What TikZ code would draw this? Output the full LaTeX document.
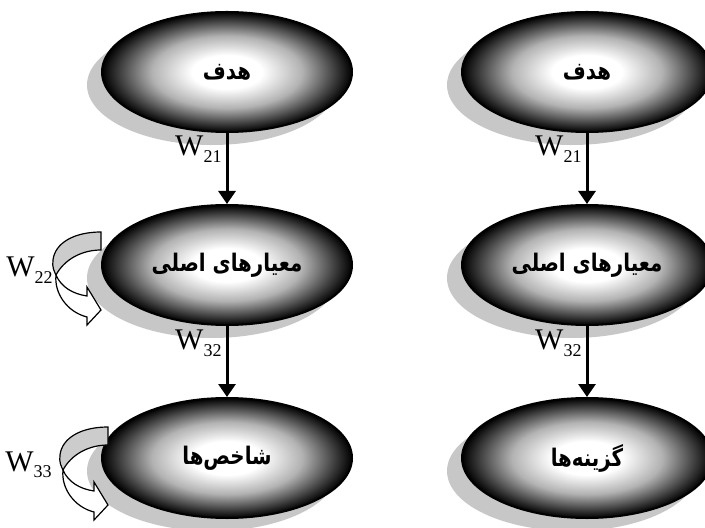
\documentclass[tikz,border=0pt]{standalone}
\usepackage{fontspec}
\setmainfont{Liberation Serif}
\newfontfamily\arabicfont[Script=Arabic]{DejaVu Sans}
\TeXXeTstate=1
\usetikzlibrary{positioning, shapes.geometric, shadows, arrows.meta}

\pgfdeclareradialshading{glow}{\pgfpoint{0bp}{0bp}}{color(0bp)=(white); color(7bp)=(white); color(15bp)=(black!30); color(21bp)=(black!72); color(25bp)=(black); color(50bp)=(black)}

\newcommand\wsub[1]{\raisebox{-0.5ex}{\fontsize{9}{9}\selectfont #1}}
\newcommand\fa[1]{\scalebox{0.9}[1.1]{\arabicfont\bfseries\beginR #1\endR}}

\tikzset{
  tier/.style={ellipse, draw=black, line width=1pt, inner sep=0pt, minimum width=125pt, minimum height=60pt,
    shading=glow, drop shadow={shadow xshift=-7.5pt, shadow yshift=-6.5pt, fill=black!22, opacity=1},
    font=\fontsize{11}{13}\selectfont},
  flow/.style={line width=1.5pt, -{Triangle[width=8.5pt,length=6.5pt]}},
  wlabel/.style={inner sep=1pt, font=\fontsize{15}{15}\selectfont},
  loopback/.pic={
    \draw[line width=0.6pt, fill=black!20] (2,-33) .. controls (-25,-33) and (-44,-22) .. (-46,-5)
      .. controls (-47,2) and (-45,6) .. (-43,10) .. controls (-35,-5) and (-18,-15) .. (2,-15) -- cycle;
    \draw[line width=0.6pt, fill=white] (-43,10) .. controls (-45,28) and (-32,47) .. (-12,52)
      -- (-12,60) -- (2,45) -- (-12,22) -- (-12,31) .. controls (-26,29) and (-38,22) .. (-43,10) -- cycle;
  }
}

\begin{document}
\begin{tikzpicture}[x=0.5pt, y=-0.5pt]
\path[use as bounding box, clip] (0,0) rectangle (705,528);

% left column
\node[tier] (goal) at (227,72) {\fa{هدف}};
\node[tier, below=35.5pt of goal] (crit) {\fa{معیارهای اصلی}};
\node[tier, below=35.5pt of crit] (ind) {\fa{شاخص‌ها}};
% right column
\node[tier, right=54pt of goal] (goal2) {\fa{هدف}};
\node[tier, below=35.5pt of goal2] (crit2) {\fa{معیارهای اصلی}};
\node[tier, below=35.5pt of crit2] (alt) {\fa{گزینه‌ها}};

\draw[flow] (goal) -- (crit) node[wlabel, at start, anchor=base east, xshift=-1pt, yshift=-11.5pt] (w21) {W\wsub{21}};
\draw[flow] (crit) -- (ind) node[wlabel, at start, anchor=base east, xshift=-1pt, yshift=-12pt] (w32) {W\wsub{32}};
\draw[flow] (goal2) -- (crit2) node[wlabel, at start, anchor=base east, xshift=-1pt, yshift=-11.5pt] (w21b) {W\wsub{21}};
\draw[flow] (crit2) -- (alt) node[wlabel, at start, anchor=base east, xshift=-1pt, yshift=-12pt] (w32b) {W\wsub{32}};

% feedback loops
\pic at ([xshift=-1pt]crit.west) {loopback};
\pic at ([xshift=2.5pt, yshift=-1pt]ind.west) {loopback};
\node[wlabel, anchor=base east] (w22) at ([xshift=-23pt, yshift=-6pt]crit.west) {W\wsub{22}};
\node[wlabel, anchor=base east] (w33) at ([xshift=-23.5pt, yshift=-6.5pt]ind.west) {W\wsub{33}};
\end{tikzpicture}
\end{document}
